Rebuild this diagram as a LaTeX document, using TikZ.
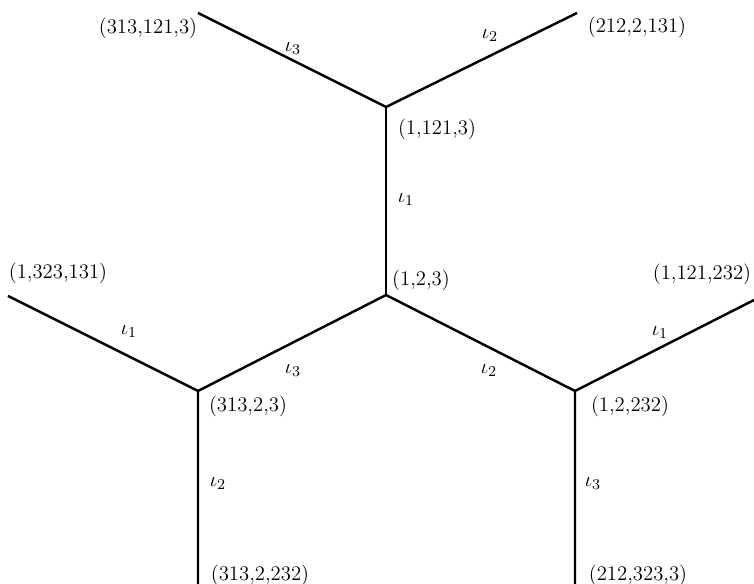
\documentclass[tikz,border=0pt]{standalone}
\begin{document}
\begin{tikzpicture}[x=0.53pt,y=-0.53pt,
  edge/.style={line width=1.3pt,line cap=butt},
  lab/.style={inner sep=0pt,font=\fontsize{11}{13}\selectfont},
  il/.style={inner sep=0pt,font=\fontsize{11}{13}\selectfont}]
\useasboundingbox (0,0) rectangle (754,584);
% vertices
\coordinate (A) at (386,107);
\coordinate (C) at (386,295);
\coordinate (L) at (198,391);
\coordinate (R) at (575,391);
% free ends
\coordinate (UL) at (198,13);
\coordinate (UR) at (577,13);
\coordinate (LE) at (8,296);
\coordinate (RE) at (758,298);
\coordinate (LB) at (198,590);
\coordinate (RB) at (575,590);
% edges
\draw[edge] (UL) -- (A) -- (UR);
\draw[edge] (A) -- (C);
\draw[edge] (L) -- (C) -- (R);
\draw[edge] (LE) -- (L) -- (LB);
\draw[edge] (RE) -- (R) -- (RB);
% vertex labels
\node[lab] (t1) at (148,28) {(313,121,3)};
\node[lab] (t2) at (637,27) {(212,2,131)};
\node[lab] (t3) at (437,129) {(1,121,3)};
\node[lab] (t4) at (421,280) {(1,2,3)};
\node[lab] (t5) at (58,273) {(1,323,131)};
\node[lab] (t6) at (702,274) {(1,121,232)};
\node[lab] (t7) at (248,406) {(313,2,3)};
\node[lab] (t8) at (630,406) {(1,2,232)};
\node[lab] (t9) at (260,575) {(313,2,232)};
\node[lab] (t10) at (638,575) {(212,323,3)};
% edge labels
\node[il] (e1) at (293,49) {$\iota_3$};
\node[il] (e2) at (490,36) {$\iota_2$};
\node[il] (e3) at (406,200) {$\iota_1$};
\node[il] (e4) at (129,332) {$\iota_1$};
\node[il] (e5) at (293,371) {$\iota_3$};
\node[il] (e6) at (489,371) {$\iota_2$};
\node[il] (e7) at (660,333) {$\iota_1$};
\node[il] (e8) at (218,484) {$\iota_2$};
\node[il] (e9) at (593,484) {$\iota_3$};
\end{tikzpicture}
\end{document}
